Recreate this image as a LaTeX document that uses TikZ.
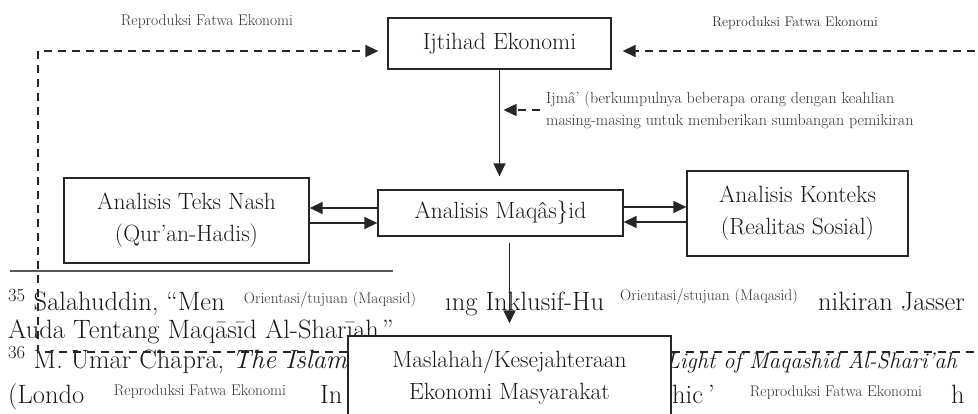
\documentclass[tikz,border=0pt]{standalone}
\usepackage{fontspec}
\usetikzlibrary{arrows.meta}

\begin{document}
\begin{tikzpicture}[x=1pt,y=-1pt,
  kotak/.style={draw=black!85,line width=1.3pt,fill=white,align=center,
    font=\fontsize{23.5}{32}\selectfont,text=black!90,inner sep=0pt},
  panah/.style={line width=1.4pt,draw=black!85,-{Triangle[length=13pt,width=12pt]}},
  putus/.style={panah,dash pattern=on 8pt off 6pt},
  ket/.style={font=\fontsize{15.5}{20}\selectfont,text=black!80,inner sep=0pt},
  catatan/.style={font=\fontsize{26.5}{28}\selectfont,text=black!90,anchor=base west,inner sep=0pt}]
\useasboundingbox (0,0) rectangle (978,414);
\clip (0,0) rectangle (978,414);

\draw[black!65,line width=2pt] (10,271) -- (393,271);
\node[catatan] (fnA) at (8,311) {\textsuperscript{35} Salahuddin, “Men};
\node[catatan] (fnB) at (445,311) {ıng Inklusif-Hu};
\node[catatan] (fnC) at (818,311) {nikiran Jasser};
\node[catatan] (fnD) at (8,338) {Auda Tentang Maqāsīd Al-Sharīah.”};
\node[catatan] (fnE) at (8,368) {\textsuperscript{36} M. Umar Chapra, \textit{The Islamic}};
\node[catatan,font=\fontsize{22.5}{28}\selectfont] (fnF) at (666,368) {\textit{Light of Maqashid Al-Shari’ah}};
\node[catatan] (fnG) at (8,403) {(Londo};
\node[catatan] (fnH) at (320,403) {In};
\node[catatan] (fnI) at (672,403) {hic};
\node[catatan] (fnJ) at (708,403) {’};
\node[catatan] (fnK) at (951,403) {h};

\node[ket] (repA) at (207,22) {Reproduksi Fatwa Ekonomi};
\node[ket,font=\fontsize{14}{20}\selectfont] (repB) at (795,23) {Reproduksi Fatwa Ekonomi};
\node[ket] (repC) at (200,392) {Reproduksi Fatwa Ekonomi};
\node[ket] (repD) at (836,393) {Reproduksi Fatwa Ekonomi};
\node[ket] (oriA) at (330,300) {Orientasi/tujuan (Maqasid)};
\node[ket] (oriB) at (709,297) {Orientasi/stujuan (Maqasid)};
\node[ket,anchor=west,align=left,font=\fontsize{16}{22}\selectfont] (ijma) at (546,110)
  {Ijmâ' (berkumpulnya beberapa orang dengan keahlian\\masing-masing untuk memberikan sumbangan pemikiran};

\node[kotak,minimum width=223pt,minimum height=51pt] (ijt) at (499.5,43.5) {Ijtihad Ekonomi};
\node[kotak,minimum width=245pt,minimum height=46pt] (maq) at (500.5,213) {Analisis Maqâs\}id};
\node[kotak,minimum width=245pt,minimum height=85pt] (teks) at (186.5,220.5) {Analisis Teks Nash\\(Qur’an-Hadis)};
\node[kotak,minimum width=221pt,minimum height=85pt] (kon) at (797.5,213.5) {Analisis Konteks\\(Realitas Sosial)};
\node[kotak,minimum width=323pt,minimum height=82pt] (mas) at (509.5,377) {Maslahah/Kesejahteraan\\Ekonomi Masyarakat};

\coordinate (kiriBawah) at (38,352);
\coordinate (kiriAtas) at (38,51);
\coordinate (kananBawah) at (995,352);
\coordinate (kananAtas) at (995,51);

\draw[panah,shorten >=13pt] (ijt.south) -- (ijt.south |- maq.north);
\draw[putus,shorten >=4pt] ([xshift=-6pt]ijma.west) -- (ijma.west -| ijt.south);
\draw[panah] ([yshift=5pt]maq.west) -- ([yshift=5pt]maq.west -| teks.east);
\draw[panah] ([yshift=-10pt]maq.west -| teks.east) -- ([yshift=-10pt]maq.west);
\draw[panah] ([yshift=6pt]maq.east) -- ([yshift=6pt]maq.east -| kon.west);
\draw[panah] ([yshift=-9pt]maq.east -| kon.west) -- ([yshift=-9pt]maq.east);
\draw[panah,shorten <=6pt,shorten >=12pt] (maq.south -| mas.north) -- (mas.north);
\draw[putus,shorten >=9pt] ([yshift=25pt]mas.west) -- (kiriBawah) -- (kiriAtas) -- (kiriAtas -| ijt.west);
\draw[putus,shorten >=11pt] ([yshift=25pt]mas.east) -- (kananBawah) -- (kananAtas) -- (kananAtas -| ijt.east);
\end{tikzpicture}
\end{document}
